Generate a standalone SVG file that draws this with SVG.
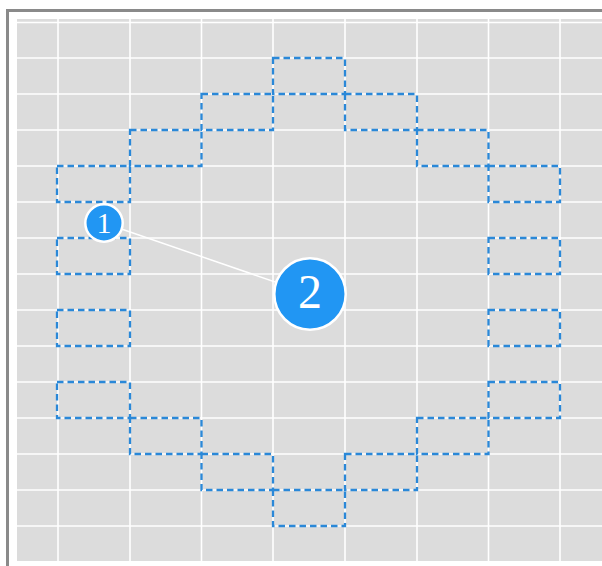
<svg xmlns="http://www.w3.org/2000/svg" width="602" height="566" viewBox="0 0 602 566">
<style>
.grid line{stroke:#ffffff;stroke-width:1.6}
.cell{fill:none;stroke:#2a88d8;stroke-width:2.3;stroke-dasharray:6.5 4}
.node circle{fill:#2196f3;stroke:#ffffff;stroke-width:2.5}
.node text{fill:#ffffff;font-family:"Liberation Serif","Times New Roman",serif;text-anchor:middle}
</style>
<rect x="0" y="0" width="602" height="566" fill="#ffffff"/>
<rect x="7.5" y="10.5" width="600" height="570" fill="#ffffff" stroke="#8a8a8a" stroke-width="3"/>
<rect x="17" y="19" width="590" height="542" fill="#dcdcdc"/>
<g class="grid">
<line x1="17" y1="22.5" x2="602" y2="22.5"/>
<line x1="17" y1="58" x2="602" y2="58"/>
<line x1="17" y1="94" x2="602" y2="94"/>
<line x1="17" y1="130" x2="602" y2="130"/>
<line x1="17" y1="166" x2="602" y2="166"/>
<line x1="17" y1="202" x2="602" y2="202"/>
<line x1="17" y1="238" x2="602" y2="238"/>
<line x1="17" y1="274" x2="602" y2="274"/>
<line x1="17" y1="310" x2="602" y2="310"/>
<line x1="17" y1="346" x2="602" y2="346"/>
<line x1="17" y1="382" x2="602" y2="382"/>
<line x1="17" y1="418" x2="602" y2="418"/>
<line x1="17" y1="454" x2="602" y2="454"/>
<line x1="17" y1="490" x2="602" y2="490"/>
<line x1="17" y1="526" x2="602" y2="526"/>
<line x1="58" y1="19" x2="58" y2="561"/>
<line x1="130" y1="19" x2="130" y2="561"/>
<line x1="201.5" y1="19" x2="201.5" y2="561"/>
<line x1="273" y1="19" x2="273" y2="561"/>
<line x1="345" y1="19" x2="345" y2="561"/>
<line x1="417" y1="19" x2="417" y2="561"/>
<line x1="488.5" y1="19" x2="488.5" y2="561"/>
<line x1="560" y1="19" x2="560" y2="561"/>
</g>
<g id="cells">
<rect class="cell" x="273" y="58" width="72" height="36"/>
<rect class="cell" x="201.5" y="94" width="71.5" height="36"/>
<rect class="cell" x="345" y="94" width="72" height="36"/>
<rect class="cell" x="130" y="130" width="71.5" height="36"/>
<rect class="cell" x="417" y="130" width="71.5" height="36"/>
<rect class="cell" x="57" y="166" width="73" height="36"/>
<rect class="cell" x="57" y="238" width="73" height="36"/>
<rect class="cell" x="57" y="310" width="73" height="36"/>
<rect class="cell" x="57" y="382" width="73" height="36"/>
<rect class="cell" x="488.5" y="166" width="71.5" height="36"/>
<rect class="cell" x="488.5" y="238" width="71.5" height="36"/>
<rect class="cell" x="488.5" y="310" width="71.5" height="36"/>
<rect class="cell" x="488.5" y="382" width="71.5" height="36"/>
<rect class="cell" x="130" y="418" width="71.5" height="36"/>
<rect class="cell" x="417" y="418" width="71.5" height="36"/>
<rect class="cell" x="201.5" y="454" width="71.5" height="36"/>
<rect class="cell" x="345" y="454" width="72" height="36"/>
<rect class="cell" x="273" y="490" width="72" height="36"/>
</g>
<g id="connectors">
<line x1="104" y1="223" x2="310" y2="294" stroke="#ffffff" stroke-width="1.5"/>
</g>
<g id="node1" class="node">
<circle cx="104" cy="223" r="18.7"/>
<text x="104" y="233" font-size="30">1</text>
</g>
<g id="node2" class="node">
<circle cx="310" cy="294" r="35.7"/>
<text x="310" y="308" font-size="48">2</text>
</g>
</svg>
